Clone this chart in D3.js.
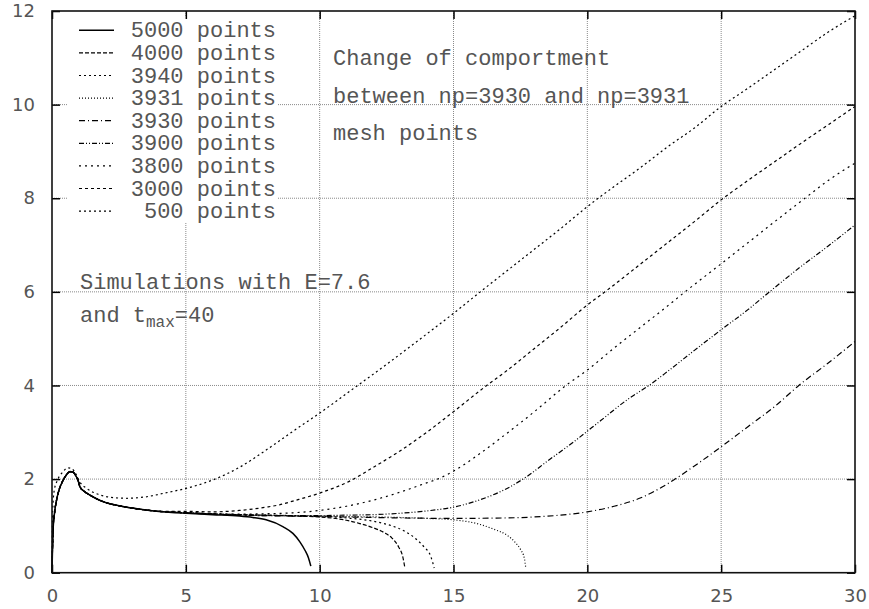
<!DOCTYPE html>
<html>
<head>
<meta charset="utf-8">
<script src="https://cdn.jsdelivr.net/npm/d3@7"></script>
<style>
  body { margin: 0; background: #fff; }
  svg { display: block; }
  .tick text { font-family: "DejaVu Sans", sans-serif; font-size: 18px; fill: #555; }
  .note { font-family: "Liberation Mono", "DejaVu Sans Mono", monospace; font-size: 22px; fill: #555; }
</style>
</head>
<body>
<script>
// tick values
var xTicks = [0, 5, 10, 15, 20, 25, 30];
var yTicks = [0, 2, 4, 6, 8, 10, 12];

// legend (mesh points)
var counts = [5000, 4000, 3940, 3931, 3930, 3900, 3800, 3000, 500];

// shared start of the runs (all but 500)
var earlyX = [0, 0.04, 0.1, 0.17, 0.27, 0.42, 0.55, 0.67, 0.78, 0.9, 0.98, 1.04, 1.2, 1.41, 1.7, 2.0, 2.5, 3.0, 3.5, 4.0];
var earlyY = [0, 0.91, 1.3, 1.55, 1.78, 1.98, 2.1, 2.16, 2.15, 2.06, 1.96, 1.84, 1.74, 1.66, 1.57, 1.5, 1.43, 1.38, 1.34, 1.31];

// tails
var x5000 = [5, 6, 7, 7.5, 8, 8.64, 9, 9.26, 9.45, 9.58, 9.67];
var y5000 = [1.27, 1.24, 1.21, 1.18, 1.13, 0.98, 0.84, 0.66, 0.48, 0.32, 0.14];

var x4000 = [5, 7, 8, 9, 10, 11, 11.5, 12, 12.4, 12.7, 12.95, 13.1, 13.18];
var y4000 = [1.28, 1.24, 1.23, 1.21, 1.19, 1.12, 1.05, 0.96, 0.86, 0.74, 0.55, 0.35, 0.12];

var x3940 = [5, 7, 9, 10, 11, 12, 12.7, 13.2, 13.6, 13.9, 14.15, 14.28];
var y3940 = [1.28, 1.24, 1.22, 1.21, 1.17, 1.1, 1.0, 0.88, 0.72, 0.55, 0.35, 0.1];

var x3931 = [5, 7, 9, 11, 13, 14, 15, 16, 16.5, 17, 17.3, 17.5, 17.65, 17.7];
var y3931 = [1.28, 1.24, 1.22, 1.2, 1.18, 1.16, 1.13, 1.03, 0.93, 0.8, 0.65, 0.5, 0.3, 0.1];

var x3930 = [5, 7, 9, 11, 13, 15, 17, 18, 19, 20, 21, 22, 23, 24, 25, 26, 27, 27.9, 29, 30];
var y3930 = [1.28, 1.23, 1.21, 1.19, 1.17, 1.16, 1.17, 1.19, 1.23, 1.3, 1.42, 1.6, 1.9, 2.28, 2.69, 3.12, 3.55, 4.0, 4.48, 4.94];

var x3900 = [5, 6, 7, 8, 9, 10, 11, 12, 13, 14, 15, 16, 17, 17.73, 18.5, 19.5, 20.5, 21.5, 22.3, 23, 24, 25, 26, 26.7, 28, 29, 30];
var y3900 = [1.28, 1.25, 1.23, 1.22, 1.22, 1.22, 1.23, 1.24, 1.27, 1.32, 1.4, 1.56, 1.8, 2.05, 2.38, 2.8, 3.25, 3.7, 4.0, 4.3, 4.75, 5.19, 5.62, 5.95, 6.55, 6.98, 7.43];

var x3800 = [5, 6, 7, 8, 9, 10, 11, 12, 13, 14, 14.4, 15, 16, 17, 18, 19.2, 20, 21, 22, 23, 23.65, 25, 26, 27, 28.13, 29, 30];
var y3800 = [1.29, 1.26, 1.25, 1.26, 1.28, 1.33, 1.42, 1.55, 1.72, 1.92, 2.0, 2.17, 2.55, 2.98, 3.43, 4.0, 4.33, 4.8, 5.25, 5.7, 6.0, 6.6, 7.05, 7.5, 8.0, 8.38, 8.75];

var x3000 = [5, 6, 7, 8, 8.5, 9, 10, 11.2, 12, 13, 14, 15, 16.24, 17, 18, 19, 20, 20.66, 22, 23, 24, 25.08, 26, 27, 28, 29, 30];
var y3000 = [1.31, 1.3, 1.33, 1.4, 1.45, 1.53, 1.7, 1.98, 2.25, 2.6, 3.0, 3.44, 4.0, 4.32, 4.78, 5.24, 5.72, 6.0, 6.6, 7.05, 7.5, 8.0, 8.38, 8.78, 9.18, 9.57, 9.96];

var x500 = [0, 0.02, 0.08, 0.2, 0.4, 0.6, 0.75, 0.9, 1.05, 1.3, 1.7, 2.2, 2.8, 3.5, 4.2, 5, 6, 7, 8, 9, 10, 11.3, 12.5, 14, 15, 16, 17, 18, 19, 20, 21, 22, 23, 24, 25, 26, 27, 28, 29, 30];
var y500 = [0, 1.2, 1.75, 1.97, 2.15, 2.24, 2.22, 2.1, 1.93, 1.8, 1.68, 1.61, 1.59, 1.62, 1.7, 1.8, 1.98, 2.25, 2.62, 3.02, 3.41, 3.95, 4.45, 5.1, 5.54, 6.0, 6.45, 6.9, 7.35, 7.82, 8.25, 8.66, 9.1, 9.5, 9.96, 10.35, 10.75, 11.15, 11.55, 11.9];

var dashes = ["", "4,2", "2,3", "1,2", "6,3,1,3", "5,2,1,2,1,2", "2,4", "3,3", "2,3"];

function pts(xs, ys, withEarly) {
  var out = [];
  if (withEarly) {
    for (var k = 0; k < earlyX.length; k++) out.push([earlyX[k], earlyY[k]]);
  }
  for (var j = 0; j < xs.length; j++) out.push([xs[j], ys[j]]);
  return out;
}

var series = [
  pts(x5000, y5000, true),
  pts(x4000, y4000, true),
  pts(x3940, y3940, true),
  pts(x3931, y3931, true),
  pts(x3930, y3930, true),
  pts(x3900, y3900, true),
  pts(x3800, y3800, true),
  pts(x3000, y3000, true),
  pts(x500, y500, false)
];

var W = 869, H = 609;
var plotL = 52, plotR = 855, plotT = 11, plotB = 572.7;

var x = d3.scaleLinear().domain([0, 30]).range([plotL, plotR]);
var y = d3.scaleLinear().domain([0, 12]).range([plotB, plotT]);

var svg = d3.select("body").append("svg")
  .attr("width", W)
  .attr("height", H);

// dotted grid
svg.append("g").selectAll("line")
  .data(xTicks.slice(1, -1))
  .enter().append("line")
  .attr("x1", function(d) { return x(d); })
  .attr("x2", function(d) { return x(d); })
  .attr("y1", plotT).attr("y2", plotB)
  .attr("stroke", "#8a8a8a").attr("stroke-dasharray", "1,1");
svg.append("g").selectAll("line")
  .data(yTicks.slice(1, -1))
  .enter().append("line")
  .attr("y1", function(d) { return y(d); })
  .attr("y2", function(d) { return y(d); })
  .attr("x1", plotL).attr("x2", plotR)
  .attr("stroke", "#8a8a8a").attr("stroke-dasharray", "1,1");

// legend background hides the grid
svg.append("rect")
  .attr("x", 68).attr("y", 17).attr("width", 209).attr("height", 205)
  .attr("fill", "#fff");

var line = d3.line()
  .x(function(d) { return x(d[0]); })
  .y(function(d) { return y(d[1]); })
  .curve(d3.curveMonotoneX);

svg.append("g").selectAll("path")
  .data(series)
  .enter().append("path")
  .attr("d", line)
  .attr("fill", "none")
  .attr("stroke", "#000")
  .attr("stroke-width", function(d, i) { return i == 0 ? 1.5 : 1.2; })
  .attr("stroke-dasharray", function(d, i) { return dashes[i]; });

// axes, ticks inward on all four sides
svg.append("g")
  .attr("transform", "translate(0," + plotB + ")")
  .call(d3.axisBottom(x).tickValues(xTicks).tickSizeInner(-8).tickSizeOuter(0).tickPadding(16.5));
svg.append("g")
  .attr("transform", "translate(" + plotL + ",0)")
  .call(d3.axisLeft(y).tickValues(yTicks).tickSizeInner(-8).tickSizeOuter(0).tickPadding(17));
svg.append("g")
  .attr("transform", "translate(0," + plotT + ")")
  .call(d3.axisTop(x).tickValues(xTicks).tickSizeInner(-8).tickSizeOuter(0).tickFormat(""));
svg.append("g")
  .attr("transform", "translate(" + plotR + ",0)")
  .call(d3.axisRight(y).tickValues(yTicks).tickSizeInner(-8).tickSizeOuter(0).tickFormat(""));
svg.selectAll(".domain").remove();
svg.selectAll(".tick line").attr("stroke", "#000").attr("stroke-width", 1.5);

svg.append("rect")
  .attr("x", plotL).attr("y", plotT)
  .attr("width", plotR - plotL).attr("height", plotB - plotT)
  .attr("fill", "none").attr("stroke", "#111").attr("stroke-width", 1.6);

// legend
var leg = svg.append("g").selectAll("g")
  .data(counts)
  .enter().append("g")
  .attr("transform", function(d, i) { return "translate(0," + (37.3 + i * 22.6) + ")"; });
leg.append("line")
  .attr("x1", 79).attr("x2", 114)
  .attr("y1", -7).attr("y2", -7)
  .attr("stroke", "#000")
  .attr("stroke-width", function(d, i) { return i == 0 ? 1.5 : 1.2; })
  .attr("stroke-dasharray", function(d, i) { return dashes[i]; });
leg.append("text")
  .attr("class", "note")
  .attr("x", 276)
  .attr("text-anchor", "end")
  .text(function(d) { return d + " points"; });

// notes
svg.append("text").attr("class", "note").attr("x", 333).attr("y", 65).text("Change of comportment");
svg.append("text").attr("class", "note").attr("x", 333).attr("y", 103).text("between np=3930 and np=3931");
svg.append("text").attr("class", "note").attr("x", 333).attr("y", 140).text("mesh points");
svg.append("text").attr("class", "note").attr("x", 80).attr("y", 289).text("Simulations with E=7.6");
var t2 = svg.append("text").attr("class", "note").attr("x", 80).attr("y", 322);
t2.append("tspan").text("and t");
t2.append("tspan").attr("dy", 5).style("font-size", "16px").text("max");
t2.append("tspan").attr("dy", -5).text("=40");
</script>
</body>
</html>
